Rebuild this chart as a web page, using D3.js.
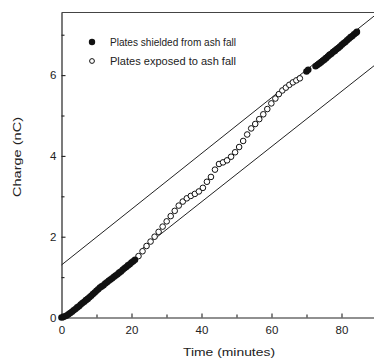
<!DOCTYPE html>
<html>
<head>
<meta charset="utf-8">
<script src="https://cdn.jsdelivr.net/npm/d3@7"></script>
<style>
  body { margin: 0; background: #fff; }
  text { font-family: "Liberation Sans", Arial, sans-serif; fill: #222; font-weight: normal; }
</style>
</head>
<body>
<script>
// Shielded plates, first run (filled)
const shieldedTimeA = [0, 0.5, 1, 1.5, 2, 2.5, 3, 3.5, 4, 4.5, 5, 5.5, 6, 6.5, 7, 7.5, 8, 8.5, 9, 9.5, 10, 10.5, 11, 11.5, 12, 12.5, 13, 13.5, 14, 14.5, 15, 15.5, 16, 16.5, 17, 17.5, 18, 18.5, 19, 19.5, 20, 20.5, 21];
const shieldedChargeA = [0, 0.01, 0.03, 0.05, 0.08, 0.11, 0.14, 0.18, 0.21, 0.25, 0.28, 0.32, 0.36, 0.39, 0.43, 0.46, 0.5, 0.54, 0.58, 0.62, 0.66, 0.7, 0.74, 0.77, 0.8, 0.84, 0.87, 0.91, 0.94, 0.97, 1.01, 1.04, 1.07, 1.11, 1.14, 1.18, 1.22, 1.25, 1.29, 1.32, 1.36, 1.39, 1.43];

// Exposed plates (open)
const exposedTime = [22, 23.15, 24.3, 25.45, 26.6, 27.75, 28.9, 30.05, 31.2, 32.35, 33.5, 34.65, 35.8, 36.95, 38.1, 39.25, 40.4, 41.55, 42.7, 43.85, 45, 46.15, 47.3, 48.45, 49.6, 50.75, 51.9, 53.05, 54.2, 55.35, 56.5, 57.65, 58.8, 59.95, 61.1, 62.1, 63.1, 64.1, 65.1, 66.1, 67.1, 68.1];
const exposedCharge = [1.52, 1.64, 1.77, 1.88, 2.0, 2.12, 2.25, 2.38, 2.51, 2.64, 2.77, 2.87, 2.95, 3.01, 3.06, 3.12, 3.21, 3.36, 3.48, 3.66, 3.8, 3.84, 3.89, 3.98, 4.09, 4.22, 4.37, 4.53, 4.68, 4.79, 4.91, 5.03, 5.16, 5.3, 5.42, 5.53, 5.62, 5.69, 5.76, 5.82, 5.87, 5.92];

// Shielded plates, second run (filled)
const shieldedTimeB = [70, 70.5, 72.6, 73.1, 73.6, 74.1, 74.6, 75.1, 75.6, 76.1, 76.6, 77.1, 77.6, 78.1, 78.6, 79.1, 79.6, 80.1, 80.6, 81.1, 81.6, 82.1, 82.6, 83.1, 83.6, 84.1, 84.4];
const shieldedChargeB = [6.09, 6.13, 6.22, 6.25, 6.28, 6.31, 6.35, 6.38, 6.42, 6.46, 6.5, 6.53, 6.57, 6.6, 6.64, 6.67, 6.71, 6.75, 6.79, 6.82, 6.86, 6.9, 6.94, 6.97, 7.01, 7.04, 7.07];

// Bounding lines [time, charge]
const upperLine = [[0, 1.3], [90, 7.51]];
const lowerLine = [[23, 1.7], [90, 6.28]];

const xTicks = [0, 20, 40, 60, 80];
const xMinor = [10, 30, 50, 70];
const yTicks = [0, 2, 4, 6];
const yMinor = [1, 3, 5, 7];

const legendItems = ["Plates shielded from ash fall", "Plates exposed to ash fall"];

const width = 374, height = 358;

const svg = d3.select("body").append("svg")
  .attr("width", width)
  .attr("height", height);

const x = d3.scaleLinear().domain([0, 90]).range([61.5, 376.5]);
const y = d3.scaleLinear().domain([0, 7.55]).range([317.5, 12.5]);

const ink = "#222";

// top of frame
svg.append("line")
  .attr("x1", x(0)).attr("x2", x(90))
  .attr("y1", y(7.55)).attr("y2", y(7.55))
  .attr("stroke", "#444").attr("stroke-width", 1.2);

// axes
const xAxis = svg.append("g")
  .attr("transform", `translate(0,${y(0)})`)
  .call(d3.axisBottom(x).tickValues(xTicks).tickSizeInner(-4).tickSizeOuter(0).tickPadding(8.5));
xAxis.append("g")
  .call(d3.axisBottom(x).tickValues(xMinor).tickSizeInner(-3).tickSizeOuter(0).tickFormat(""))
  .select(".domain").remove();

const yAxis = svg.append("g")
  .attr("transform", `translate(${x(0)},0)`)
  .call(d3.axisLeft(y).tickValues(yTicks).tickSizeInner(-4).tickSizeOuter(0).tickPadding(5));
yAxis.append("g")
  .call(d3.axisLeft(y).tickValues(yMinor).tickSizeInner(-3).tickSizeOuter(0).tickFormat(""))
  .select(".domain").remove();

svg.selectAll(".domain").attr("stroke", ink).attr("stroke-width", 1.2);
svg.selectAll(".tick line").attr("stroke", ink).attr("stroke-width", 1.1);
svg.selectAll(".tick text")
  .attr("font-family", "Liberation Sans, Arial, sans-serif")
  .attr("font-size", 11.5)
  .attr("fill", ink);

// axis titles
svg.append("text")
  .attr("x", 229).attr("y", 356)
  .attr("text-anchor", "middle")
  .attr("font-size", 11.5)
  .attr("textLength", 92)
  .attr("lengthAdjust", "spacingAndGlyphs")
  .text("Time (minutes)");

svg.append("text")
  .attr("transform", "translate(20.5,157) rotate(-90)")
  .attr("text-anchor", "middle")
  .attr("font-size", 11.5)
  .attr("textLength", 80)
  .attr("lengthAdjust", "spacingAndGlyphs")
  .text("Charge (nC)");

// bounding lines
const line = d3.line().x(d => x(d[0])).y(d => y(d[1]));
[upperLine, lowerLine].forEach(l => {
  svg.append("path")
    .attr("d", line(l))
    .attr("fill", "none")
    .attr("stroke", ink)
    .attr("stroke-width", 1);
});

// data
const shieldedA = shieldedTimeA.map((t, i) => ({ t, v: shieldedChargeA[i] }));
const shieldedB = shieldedTimeB.map((t, i) => ({ t, v: shieldedChargeB[i] }));
const exposed = exposedTime.map((t, i) => ({ t, v: exposedCharge[i] }));

svg.append("g").selectAll("circle")
  .data(exposed)
  .join("circle")
  .attr("cx", d => x(d.t))
  .attr("cy", d => y(d.v))
  .attr("r", 2.8)
  .attr("fill", "#fff")
  .attr("stroke", "#111")
  .attr("stroke-width", 1);

svg.append("g").selectAll("circle")
  .data(shieldedA.concat(shieldedB))
  .join("circle")
  .attr("cx", d => x(d.t))
  .attr("cy", d => y(d.v))
  .attr("r", 3.3)
  .attr("fill", "#111");

// legend
const legend = svg.append("g");
legend.append("circle").attr("cx", 92).attr("cy", 42).attr("r", 3.2).attr("fill", "#111");
legend.append("circle").attr("cx", 92).attr("cy", 61).attr("r", 2.4)
  .attr("fill", "#fff").attr("stroke", "#111").attr("stroke-width", 1);
legendItems.forEach((label, i) => {
  legend.append("text")
    .attr("x", 110)
    .attr("y", 46 + i * 19)
    .attr("font-size", 10.5)
    .attr("textLength", 126)
    .attr("lengthAdjust", "spacingAndGlyphs")
    .text(label);
});
</script>
</body>
</html>
